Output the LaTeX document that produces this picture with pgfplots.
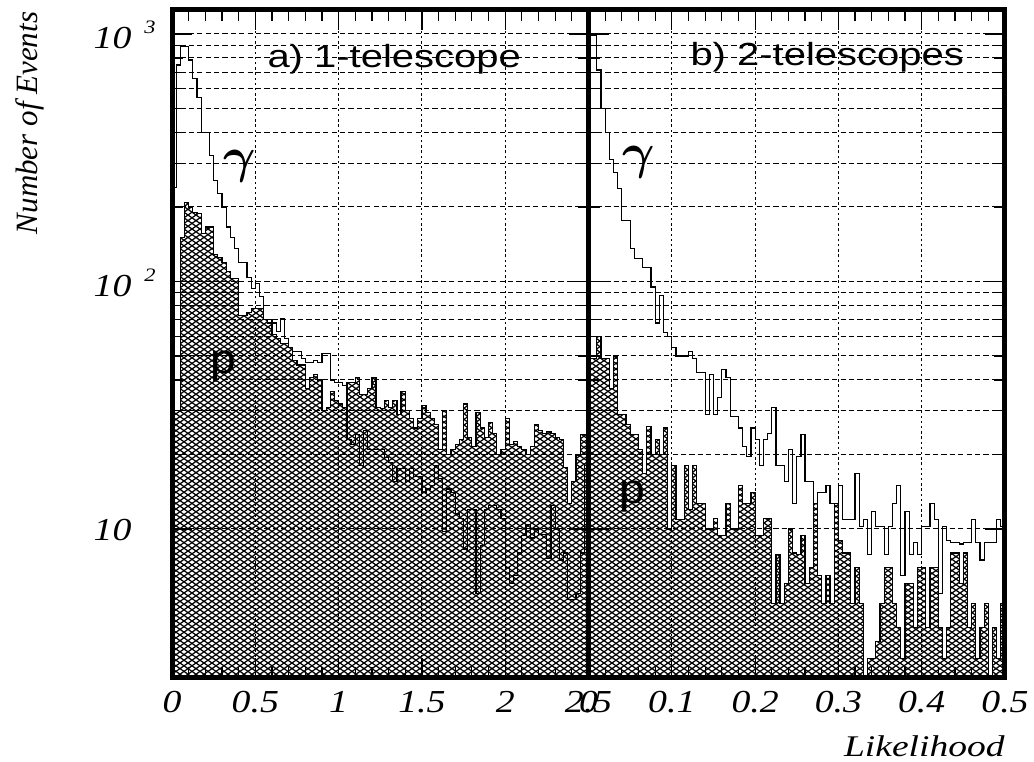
\documentclass[border=0pt]{standalone}
\usepackage{bm}
\usepackage{fontspec}
\setmainfont{Liberation Serif}
\newfontfamily\hv{Liberation Sans}
\usepackage{pgfplots}
\pgfplotsset{compat=1.18}
\usepackage{pgfplotstable}
\usetikzlibrary{patterns}

% cross-hatch used for the proton histograms
\pgfdeclarepatternformonly{xhatch}{\pgfqpoint{-0.5pt}{-0.5pt}}{\pgfqpoint{4.5pt}{3.3pt}}{\pgfqpoint{4pt}{2.8pt}}{%
  \pgfsetlinewidth{0.6pt}%
  \pgfpathmoveto{\pgfqpoint{0pt}{0pt}}\pgfpathlineto{\pgfqpoint{4pt}{2.8pt}}%
  \pgfpathmoveto{\pgfqpoint{0pt}{2.8pt}}\pgfpathlineto{\pgfqpoint{4pt}{0pt}}%
  \pgfusepath{stroke}}

% decade exponent set after the mantissa
\newcommand\sep[1]{\rlap{\hspace{5.5pt}\raisebox{7.5pt}{\fontsize{9.5}{10}\selectfont #1}}}
\newcommand\gam{$\bm{\gamma}$}

% 1-telescope: bin left edge, gamma counts, proton counts
\pgfplotstableread{
x g p
0.000 240 30
0.025 750 30
0.050 890 150
0.075 890 209
0.100 785 200
0.125 663 190
0.150 555 188
0.175 400 156
0.200 400 166
0.225 323 166
0.250 256 129
0.275 227 125
0.300 200 119
0.325 166 110
0.350 151 103
0.375 136 103
0.400 119 73
0.425 119 73
0.450 104 75
0.475 94 78
0.500 98 78
0.525 87 78
0.550 70 70
0.575 70 68
0.600 68 61
0.625 63 59
0.650 71 56
0.675 59 56
0.700 54 54
0.725 52 48
0.750 52 46
0.775 49 46
0.800 47 37
0.825 47 41
0.850 48 42
0.875 47 40
0.900 51 30
0.925 51 31
0.950 40 36
0.975 39 33
1.000 39 32
1.025 38 31
1.050 23 39
1.075 22 39
1.100 24 41
1.125 18 35
1.150 25 35
1.175 21 37
1.200 21 41
1.225 21 31
1.250 21 30.6
1.275 19.5 33
1.300 18.5 31
1.325 15.6 33
1.350 17.5 29
1.375 17.5 36
1.400 15.6 30
1.425 17.5 28
1.450 16.3 25.6
1.475 16.3 28
1.500 14 31.5
1.525 14.5 29.5
1.550 15 28
1.575 18 26.5
1.600 16 21
1.625 9.8 30
1.650 14.5 20
1.675 14 21
1.700 11.5 22
1.725 11 23
1.750 8.3 32
1.775 12 23.5
1.800 12 21.6
1.825 5.5 29.5
1.850 8.6 25.6
1.875 12 23.5
1.900 12.4 27
1.925 12.4 24.4
1.950 12 20
1.975 11 21
2.000 7 28
2.025 6 22
2.050 6.5 22.5
2.075 8 21.6
2.100 9.4 21
2.125 10.4 20
2.150 9.2 21.6
2.175 10 26.5
2.200 9.5 25
2.225 9.5 24.4
2.250 7.6 24.8
2.275 12.4 24.4
2.300 10 23.5
2.325 7.5 23
2.350 8 17.7
2.375 5.2 12.7
2.400 5.2 15.6
2.425 5.5 19.8
2.450 8 24
2.475 18 24
2.500 18 24
}\tabL

% 2-telescopes: bin left edge, gamma counts, proton counts
\pgfplotstableread{
x g p
0.000 990 49
0.005 990 49
0.010 715 60
0.015 500 49
0.020 400 49
0.025 310 37
0.030 276 50
0.035 237 29
0.040 177 29
0.045 177 26.5
0.050 136 24
0.055 124 24
0.060 124 21
0.065 114 16.7
0.070 114 26
0.075 95 20
0.080 68 23
0.085 88 20
0.090 62 25.6
0.095 60 10
0.100 54 18
0.105 50 10.9
0.110 50 10.9
0.115 50 18
0.120 52 12
0.125 49 18
0.130 43 12.7
0.135 43 12.7
0.140 29 10
0.145 42 10
0.150 29 11
0.155 34 9.4
0.160 44 9.4
0.165 41 12.7
0.170 28.5 10
0.175 28.5 10
0.180 25.6 15
0.185 21.6 12.7
0.190 19.7 12.7
0.195 25.6 14
0.200 23 9.4
0.205 18 9.4
0.210 23 11
0.215 24.4 11
0.220 31 5
0.225 18 7.9
0.230 18 5
0.235 15.6 6
0.240 21 10
0.245 12.7 8
0.250 19.7 7.9
0.255 24 9.4
0.260 15.6 6
0.265 15.6 7
0.270 12.7 12.7
0.275 14 6.5
0.280 14 5
0.285 15 6.5
0.290 12.7 5
0.295 12.7 12.7
0.300 15 9
0.305 10.9 8
0.310 10.9 8
0.315 10.9 5
0.320 16.7 7
0.325 10.2 5
0.330 10.9 2
0.335 7.9 3
0.340 11.8 3
0.345 10.2 3.5
0.350 10.2 5
0.355 7.9 7
0.360 10.2 7
0.365 12.7 5
0.370 15 4
0.375 6.5 3
0.380 11.8 6
0.385 7.9 6
0.390 8.8 4
0.395 7.9 7
0.400 10.2 7
0.405 10.2 4
0.410 12.7 7
0.415 10.9 7
0.420 5.5 4
0.425 10.2 3
0.430 9 4
0.435 8.8 8
0.440 8.8 8
0.445 8.7 6
0.450 8.8 8
0.455 8.8 4
0.460 10.9 5
0.465 8.8 3
0.470 7.5 4
0.475 8.8 5
0.480 8.8 2
0.485 8.8 4
0.490 10.9 3
0.495 10.2 5
0.500 10.2 5
}\tabR

\begin{document}
\begin{tikzpicture}
\useasboundingbox (0,0) rectangle (517pt,380.5pt);

\begin{axis}[at={(86pt,41.5pt)}, anchor=south west,
  scale only axis, width=208.25pt, height=334pt,
  ymode=log, ymin=2.5, ymax=1250,
  xmin=0, xmax=2.5,
  clip mode=individual,
  axis line style={line width=2.5pt},
  tick style={black, line width=0.6pt},
  major tick length=10pt, minor tick length=5.5pt,
  tick align=inside,
  xmajorgrids, ymajorgrids, yminorgrids,
  major grid style={black, line width=0.5pt},
  minor grid style={black, line width=0.5pt},
  every axis x grid/.style={dash pattern=on 1.2pt off 1.4pt},
  every axis y grid/.style={dash pattern=on 2.6pt off 1.6pt},
  minor x tick num=4,
  xtick={0,0.5,1,1.5,2,2.5}, xticklabels={0,0.5,1,1.5,2,2.5},
  xticklabel style={font=\fontsize{16}{16}\selectfont\itshape, xscale=1.18, anchor=north, yshift=-3pt},
  ytick={10,100,1000}, yticklabels={10,10\sep{2},10\sep{3}},
  yticklabel style={font=\fontsize{16}{16}\selectfont\itshape, xscale=1.18, anchor=east, inner sep=0pt, xshift=-17pt, yshift=-0.5pt}]
\addplot[const plot, black, line width=0.6pt, pattern=xhatch] table[x=x,y=p]{\tabL} \closedcycle;
\addplot[const plot, black, line width=0.6pt] table[x=x,y=g]{\tabL};
\draw[line width=2.5pt] (rel axis cs:0,0) rectangle (rel axis cs:1,1);
\end{axis}

\begin{axis}[at={(294.25pt,41.5pt)}, anchor=south west,
  scale only axis, width=208.25pt, height=334pt,
  ymode=log, ymin=2.5, ymax=1250,
  xmin=0, xmax=0.5,
  clip mode=individual,
  axis line style={line width=2.5pt},
  tick style={black, line width=0.6pt},
  major tick length=10pt, minor tick length=5.5pt,
  tick align=inside,
  xmajorgrids, ymajorgrids, yminorgrids,
  major grid style={black, line width=0.5pt},
  minor grid style={black, line width=0.5pt},
  every axis x grid/.style={dash pattern=on 1.2pt off 1.4pt},
  every axis y grid/.style={dash pattern=on 2.6pt off 1.6pt},
  minor x tick num=4,
  xtick={0,0.1,0.2,0.3,0.4,0.5}, xticklabels={0,0.1,0.2,0.3,0.4,0.5},
  xticklabel style={font=\fontsize{16}{16}\selectfont\itshape, xscale=1.18, anchor=north, yshift=-3pt},
  ytick={10,100,1000}, yticklabels={,,}]
\addplot[const plot, black, line width=0.6pt, pattern=xhatch] table[x=x,y=p]{\tabR} \closedcycle;
\addplot[const plot, black, line width=0.6pt] table[x=x,y=g]{\tabR};
\draw[line width=2.5pt] (rel axis cs:0,0) rectangle (rel axis cs:1,1);
\end{axis}

\node[rotate=90, inner sep=0pt, font=\fontsize{15.5}{16}\selectfont\itshape] at (15pt,319pt) {Number of Events};
\node[anchor=base east, inner sep=0pt, xscale=1.25, font=\fontsize{15}{15}\selectfont\itshape] at (502.5pt,2.5pt) {Likelihood};
\node[anchor=base west, inner sep=0pt, xscale=1.25, font=\hv\fontsize{16}{16}\selectfont] at (133.5pt,346.5pt) {a) 1-telescope};
\node[anchor=base west, inner sep=0pt, xscale=1.25, font=\hv\fontsize{16}{16}\selectfont] at (345pt,347.5pt) {b) 2-telescopes};
\node[inner sep=0pt, font=\fontsize{23}{23}\selectfont] at (120pt,297.5pt) {\gam};
\node[inner sep=0pt, font=\fontsize{23}{23}\selectfont] at (319.5pt,299.5pt) {\gam};
\node[inner sep=0pt, xscale=1.1, font=\hv\fontsize{21}{21}\selectfont] at (111.5pt,197pt) {p};
\node[inner sep=0pt, xscale=1.1, font=\hv\fontsize{21}{21}\selectfont] at (316pt,132pt) {p};
\end{tikzpicture}
\end{document}
